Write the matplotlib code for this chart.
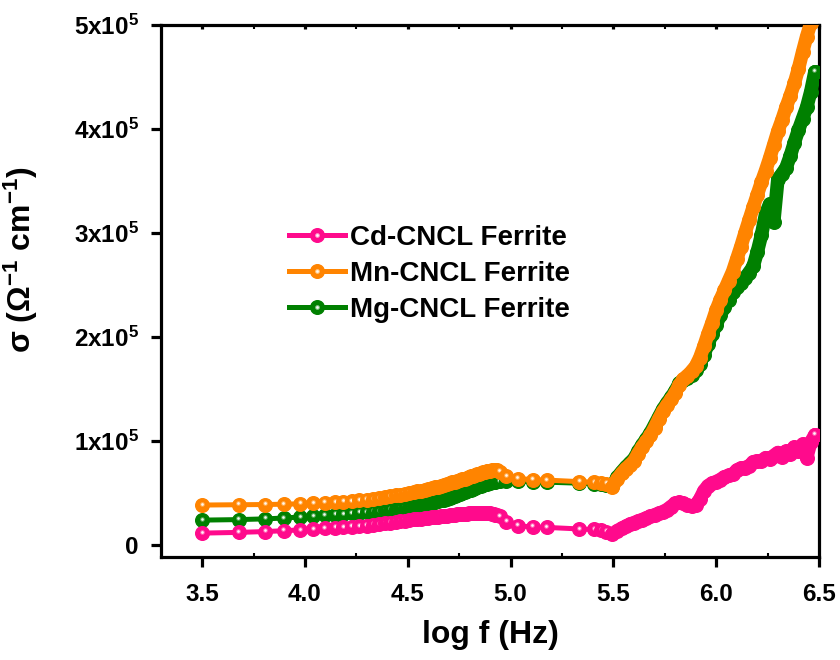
import matplotlib
matplotlib.use("Agg")
import matplotlib.pyplot as plt
from matplotlib.lines import Line2D
from matplotlib.legend_handler import HandlerTuple
from matplotlib.ticker import FixedLocator, FuncFormatter
from matplotlib.transforms import offset_copy

# ---- conductivity vs log frequency, three ferrites ----
# low-frequency sweep (sparser near 3.5, then one point per ~1.5 kHz)
logf_lo = [3.500, 3.678, 3.807, 3.896, 3.976, 4.041, 4.097, 4.146, 4.187, 4.227,
           4.265, 4.300, 4.332, 4.362, 4.389, 4.416, 4.441, 4.464, 4.486, 4.507,
           4.528, 4.547, 4.565, 4.583, 4.600, 4.616, 4.632, 4.647, 4.662, 4.676,
           4.690, 4.704, 4.717, 4.729, 4.741, 4.753, 4.765, 4.776, 4.787, 4.798,
           4.808, 4.818, 4.828, 4.838, 4.848, 4.857, 4.866, 4.875, 4.884, 4.892,
           4.901, 4.909, 4.917, 4.925, 4.933, 4.947, 4.980, 5.034, 5.107, 5.175,
           5.335, 5.408, 5.442, 5.466, 5.495]
# high-frequency sweep
logf_hi = [5.52, 5.54, 5.56, 5.58, 5.60, 5.62, 5.64, 5.66, 5.68, 5.70,
           5.72, 5.74, 5.76, 5.78, 5.80, 5.82, 5.84, 5.86, 5.88, 5.90,
           5.92, 5.94, 5.96, 5.98, 6.00, 6.02, 6.04, 6.06, 6.08, 6.10,
           6.12, 6.14, 6.16, 6.18, 6.20, 6.22, 6.24, 6.26, 6.28, 6.30,
           6.32, 6.34, 6.36, 6.38, 6.40, 6.42, 6.44, 6.46, 6.48]

cd_lo = [11500, 12200, 13000, 13800, 14600, 15300, 16000, 16600, 17100, 17600,
         18200, 18800, 19500, 20200, 20900, 21600, 22300, 23000, 23600, 24100,
         24600, 25000, 25400, 25800, 26200, 26600, 27000, 27400, 27800, 28100,
         28400, 28700, 29000, 29300, 29500, 29700, 29900, 30100, 30300, 30500,
         30600, 30700, 30800, 30900, 31000, 31000, 31000, 31000, 30900, 30800,
         30600, 30300, 29900, 29400, 28800, 27500, 22500, 18500, 17500, 17000,
         15500, 15000, 14500, 13000, 10500]
cd_hi = [14000, 16000, 18000, 20000, 21500, 23000, 24500, 26000, 27500, 29000,
         30500, 32000, 34000, 37000, 40000, 41000, 40000, 38500, 37500, 38500,
         44000, 52000, 57000, 59500, 61000, 63000, 65500, 67000, 68000, 72000,
         74000, 74500, 76000, 80000, 81000, 81000, 84000, 83000, 86000, 89000,
         85000, 90000, 88000, 94000, 90000, 97000, 84000, 99000, 106000]

mn_lo = [38500, 38800, 39000, 39300, 39700, 40200, 40700, 41200, 41800, 42400,
         43000, 43700, 44400, 45200, 46000, 46800, 47700, 48600, 49400, 50200,
         51000, 51700, 52400, 53100, 53900, 54700, 55500, 56200, 57000, 57800,
         58600, 59400, 60200, 61000, 61800, 62600, 63300, 64000, 64700, 65400,
         66100, 66800, 67400, 68000, 68600, 69200, 69800, 70300, 70800, 71200,
         71600, 71900, 72100, 72100, 71900, 70500, 66500, 64000, 63000, 62500,
         61000, 60500, 60000, 59000, 55500]
mn_hi = [64000, 69000, 73500, 77000, 81000, 88000, 94500, 100000, 105500, 113000,
         121000, 128500, 134500, 140000, 146000, 154000, 159500, 163000, 167000, 172000,
         180000, 191000, 203000, 214000, 226000, 236000, 245000, 254000, 263000, 275000,
         287000, 300000, 312500, 325000, 337000, 349000, 360000, 372000, 385000, 398000,
         409000, 421000, 432000, 444000, 458000, 474000, 489000, 502000, 512000]

mg_lo = [24000, 24500, 25200, 26000, 27000, 27800, 28500, 29200, 29800, 30400,
         31000, 31600, 32200, 32800, 33400, 34000, 34600, 35300, 36000, 36700,
         37300, 38000, 38600, 39300, 40000, 40700, 41500, 42200, 43000, 43800,
         44600, 45500, 46300, 47200, 48000, 48900, 49800, 50700, 51600, 52500,
         53300, 54100, 54900, 55700, 56500, 57200, 57900, 58500, 59100, 59600,
         60000, 60400, 60800, 61100, 61300, 61500, 62000, 61500, 61000, 60500,
         59500, 59000, 58500, 58000, 57000]
mg_hi = [65500, 70500, 75000, 79000, 83000, 90000, 96500, 102000, 108000, 115500,
         123000, 130500, 136500, 142000, 148000, 155500, 159000, 161000, 164000, 168000,
         174000, 183000, 193000, 203000, 212000, 221000, 229000, 236000, 243000, 248000,
         252000, 257000, 262000, 268000, 282000, 298000, 318000, 328000, 311000, 352000,
         357000, 363000, 374000, 387000, 399000, 410000, 421000, 436000, 455000]

labels = ["Cd-CNCL Ferrite", "Mn-CNCL Ferrite", "Mg-CNCL Ferrite"]
colors = ["#FF0A8C", "#FF8400", "#008000"]
glow = ["#FF9ACD", "#FFC888", "#8CC48C"]
shine = ["#FFF4FA", "#FFF8EE", "#F2F9F2"]

x_ticks = [3.5, 4.0, 4.5, 5.0, 5.5, 6.0, 6.5]
y_ticks = [0, 1e5, 2e5, 3e5, 4e5, 5e5]

MS = 9.8      # marker diameter, pt
LW = 3.6      # connecting line, pt

plt.rcParams.update({
    "font.family": "Liberation Sans",
    "font.weight": "bold",
    "mathtext.fontset": "custom",
    "mathtext.rm": "Liberation Sans:bold",
    "mathtext.it": "Liberation Sans:bold",
    "mathtext.bf": "Liberation Sans:bold",
})

fig = plt.figure(figsize=(8.4, 6.6), dpi=100)
ax = fig.add_axes([0.1917, 0.156, 0.7833, 0.806])

hl_tr = offset_copy(ax.transData, fig=fig, x=-0.3, y=1.0, units="points")


def shiny(xv, yv, c, gc, sc, z):
    # one ball marker: solid disc, soft glow, bright core
    ax.plot([xv], [yv], "o", ms=MS, color=c, mec=c, zorder=z)
    ax.plot([xv], [yv], "o", ms=3.4, color=gc, mec="none", alpha=0.6,
            zorder=z + 0.001, transform=hl_tr)
    ax.plot([xv], [yv], "o", ms=1.9, color=sc, mec="none",
            zorder=z + 0.002, transform=hl_tr)


series = [
    (mg_lo, mg_hi, colors[2], glow[2], shine[2], 10),
    (mn_lo, mn_hi, colors[1], glow[1], shine[1], 20),
    (cd_lo, cd_hi, colors[0], glow[0], shine[0], 30),
]
for ylo, yhi, c, gc, sc, z in series:
    ax.plot(logf_lo + logf_hi, ylo + yhi, "-", color=c, lw=LW, zorder=z)
    # low-frequency points, later balls drawn over earlier ones
    for i, (xv, yv) in enumerate(zip(logf_lo, ylo)):
        shiny(xv, yv, c, gc, sc, z + 1 + i * 0.004)
    # high-frequency points are packed into a continuous band
    xh = [logf_lo[-1]] + logf_hi
    yh = [ylo[-1]] + yhi
    ax.plot(xh, yh, "-", color=c, lw=MS, solid_capstyle="round",
            solid_joinstyle="round", zorder=z + 1.5)
    ax.plot(logf_hi, yhi, "o", ms=MS, color=c, mec=c, zorder=z + 1.6)
    shiny(logf_hi[-1], yhi[-1], c, gc, sc, z + 1.7)

ax.set_xlim(3.3, 6.5)
ax.set_ylim(-11500, 5e5)
ax.xaxis.set_major_locator(FixedLocator(x_ticks))
ax.xaxis.set_minor_locator(FixedLocator([3.75, 4.25, 4.75, 5.25, 5.75, 6.25]))
ax.yaxis.set_major_locator(FixedLocator(y_ticks))
ax.xaxis.set_major_formatter(FuncFormatter(lambda v, p: f"{v:.1f}"))
ax.yaxis.set_major_formatter(FuncFormatter(
    lambda v, p: "0" if v == 0 else f"{int(round(v / 1e5))}x10$^{{5}}$"))

for s in ax.spines.values():
    s.set_linewidth(2.3)
ax.tick_params(axis="both", which="major", direction="out", length=7, width=2.3,
               labelsize=17.5)
ax.tick_params(axis="y", which="major", pad=9)
ax.tick_params(axis="x", which="major", top=True, labeltop=False, pad=12)
ax.tick_params(axis="x", which="minor", direction="in", length=3, width=1.5,
               top=True)
for t in ax.get_xticklabels() + ax.get_yticklabels():
    t.set_fontweight("bold")
# top ticks point inward
for tk in ax.xaxis.get_major_ticks():
    tk.tick2line.set_marker(3)
    tk.tick2line.set_markersize(3)

ax.set_xlabel("log f (Hz)", fontsize=23, fontweight="bold", labelpad=10)
ax.set_ylabel("σ (Ω$^{-1}$ cm$^{-1}$)", fontsize=23, fontweight="bold")
ax.yaxis.set_label_coords(-0.184, 0.56)

handles = []
for c, gc, sc in zip(colors, glow, shine):
    base = Line2D([], [], color=c, lw=LW, marker="o", ms=MS, mec=c)
    mid = Line2D([], [], color="none", marker="o", ms=3.4, mfc=gc, mec="none")
    spot = Line2D([], [], color="none", marker="o", ms=1.9, mfc=sc, mec="none")
    handles.append((base, mid, spot))
ax.legend(handles, labels, handler_map={tuple: HandlerTuple(ndivide=1, pad=0)},
          loc="upper left", bbox_to_anchor=(0.178, 0.646), frameon=False,
          handlelength=2.0, handletextpad=0.2, labelspacing=0.37,
          borderaxespad=0, prop={"weight": "bold", "size": 20})

fig.savefig("out.png", dpi=100)
